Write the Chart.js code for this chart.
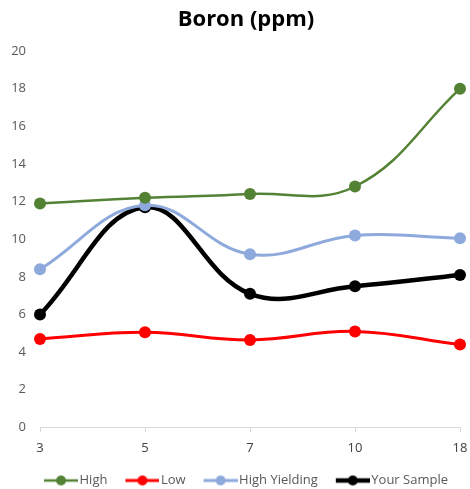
<!DOCTYPE html>
<html>
<head>
<meta charset="utf-8">
<script src="https://cdn.jsdelivr.net/npm/chart.js@4/dist/chart.umd.min.js"></script>
<style>
  html, body { margin: 0; padding: 0; background: #fff; }
  #wrap { width: 470px; height: 489px; }
</style>
</head>
<body>
<div id="wrap"><canvas id="c" width="470" height="489"></canvas></div>
<script>
// Boron levels by sample period
const categories = ['3', '5', '7', '10', '18'];
const highValues = [11.9, 12.2, 12.4, 12.8, 18.0];
const lowValues = [4.7, 5.05, 4.65, 5.1, 4.4];
const highYieldingValues = [8.4, 11.8, 9.2, 10.2, 10.05];
const yourSampleValues = [6.0, 11.7, 7.1, 7.5, 8.1];
const yTicks = [0, 2, 4, 6, 8, 10, 12, 14, 16, 18, 20];
const chartTitle = 'Boron (ppm)';

const FONT = '"Open Sans", "Noto Sans", sans-serif';
const SWATCH_BOX = 43;
const LEGEND_DX = 9;
const LEGEND_DY = 8;

// legend swatch: short line with a dot in the middle, hugging the right of a wider box
function swatch(color, lw) {
  const cv = document.createElement('canvas');
  cv.width = SWATCH_BOX + 10; cv.height = 14;
  const g = cv.getContext('2d');
  const x0 = cv.width - 34;
  g.strokeStyle = color; g.lineWidth = lw;
  g.beginPath(); g.moveTo(x0, 7); g.lineTo(cv.width, 7); g.stroke();
  g.fillStyle = color;
  g.beginPath(); g.arc(x0 + 17, 7, 5, 0, Math.PI * 2); g.fill();
  return cv;
}

function series(label, data, color, width) {
  return {
    label, data,
    borderColor: color,
    backgroundColor: color,
    borderWidth: width,
    pointRadius: 6,
    pointHoverRadius: 6,
    pointBorderWidth: 0,
    tension: 0.4,
    fill: false,
    legendSwatch: swatch(color, width)
  };
}

// centred chart heading, plus a nudge of the legend row
const headingPlugin = {
  id: 'heading',
  afterLayout(chart) {
    const lg = chart.legend;
    if (lg) {
      lg.left += LEGEND_DX; lg.right += LEGEND_DX;
      lg.top += LEGEND_DY; lg.bottom += LEGEND_DY;
    }
  },
  afterDraw(chart) {
    const ctx = chart.ctx;
    ctx.save();
    ctx.font = 'bold 22px ' + FONT;
    ctx.fillStyle = '#000';
    ctx.textAlign = 'center';
    ctx.textBaseline = 'middle';
    ctx.fillText(chartTitle, 246, 20);
    ctx.restore();
  }
};

new Chart(document.getElementById('c'), {
  type: 'line',
  data: {
    labels: categories,
    datasets: [
      series('High', highValues, '#548235', 2.5),
      series('Low', lowValues, '#FF0000', 3),
      series('High Yielding', highYieldingValues, '#8EA9DB', 3),
      series('Your Sample', yourSampleValues, '#000000', 4.5)
    ]
  },
  plugins: [headingPlugin],
  options: {
    responsive: false,
    animation: false,
    layout: { padding: { left: 0, right: 10, top: 51, bottom: 0 } },
    plugins: {
      tooltip: { enabled: false },
      title: { display: false },
      legend: {
        position: 'bottom',
        labels: {
          usePointStyle: true,
          pointStyleWidth: SWATCH_BOX,
          color: '#595959',
          font: { family: FONT, size: 13 },
          padding: 4,
          generateLabels(chart) {
            return chart.data.datasets.map((ds, i) => ({
              text: ds.label,
              pointStyle: ds.legendSwatch,
              fillStyle: ds.borderColor,
              strokeStyle: ds.borderColor,
              lineWidth: 0,
              fontColor: '#595959',
              hidden: false,
              datasetIndex: i
            }));
          }
        }
      }
    },
    scales: {
      x: {
        afterFit(scale) {
          scale.height -= 2;
          scale.paddingLeft = 0;
          scale.paddingRight = 0;
        },
        grid: {
          display: true,
          drawOnChartArea: false,
          drawTicks: true,
          tickLength: 5,
          color: '#D9D9D9'
        },
        border: { display: true, color: '#D9D9D9', width: 1 },
        ticks: {
          color: '#404040',
          font: { family: FONT, size: 13 },
          padding: 8,
          maxRotation: 0
        }
      },
      y: {
        min: 0,
        max: 20,
        afterBuildTicks(scale) { scale.ticks = yTicks.map(v => ({ value: v })); },
        afterFit(scale) { scale.width = 40; },
        grid: { display: false, drawTicks: false },
        border: { display: false },
        ticks: {
          color: '#595959',
          font: { family: FONT, size: 13 },
          padding: 14
        }
      }
    }
  }
});
</script>
</body>
</html>
